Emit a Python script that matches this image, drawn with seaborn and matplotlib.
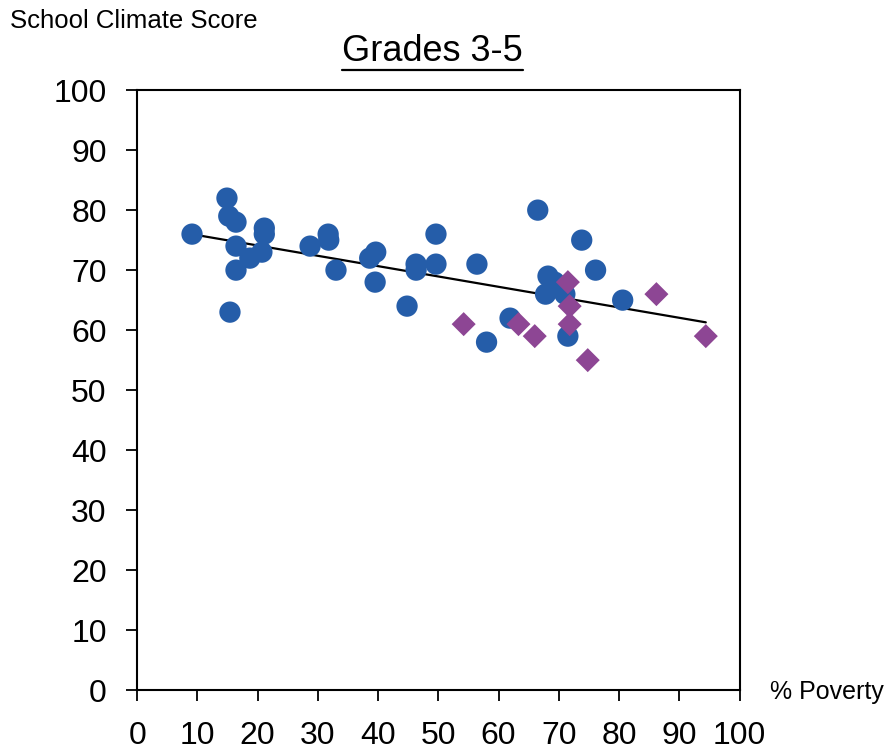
import numpy as np
import pandas as pd
import matplotlib
matplotlib.use("Agg")
import matplotlib.pyplot as plt
import seaborn as sns
from matplotlib.lines import Line2D

# Data
circle_x = [9.1, 14.9, 15.2, 16.4, 16.4, 16.4, 15.4, 18.7, 20.7, 21.1, 21.1, 28.7,
            31.7, 31.8, 33.0, 38.6, 39.6, 39.5, 44.8, 46.3, 46.3, 49.6, 49.6, 56.4,
            58.0, 61.9, 66.5, 73.8, 68.2, 67.8, 69.3, 71.0, 71.5, 76.1, 80.6]
circle_y = [76, 82, 79, 78, 74, 70, 63, 72, 73, 77, 76, 74,
            76, 75, 70, 72, 73, 68, 64, 71, 70, 71, 76, 71,
            58, 62, 80, 75, 69, 66, 68, 66, 59, 70, 65]
diamond_x = [54.2, 63.3, 66.0, 71.5, 71.8, 71.8, 74.8, 86.2, 94.4]
diamond_y = [61, 61, 59, 68, 64, 61, 55, 66, 59]
trend_x = [9.0, 94.4]
trend_y = [76.0, 61.3]
x_ticks = list(range(0, 101, 10))
y_ticks = list(range(0, 101, 10))

sns.set_theme(style="white")
plt.rcParams['font.family'] = ['Liberation Sans Narrow', 'Liberation Sans', 'DejaVu Sans']
plt.rcParams['text.color'] = 'black'

fig = plt.figure(figsize=(8.91, 7.51), dpi=100)
ax = fig.add_axes([0.154, 0.081, 0.676, 0.799])

df_c = pd.DataFrame({"x": circle_x, "y": circle_y})
df_d = pd.DataFrame({"x": diamond_x, "y": diamond_y})

sns.lineplot(x=trend_x, y=trend_y, ax=ax, color="black", linewidth=1.6, zorder=1)
sns.scatterplot(data=df_c, x="x", y="y", ax=ax, s=235, marker="o",
                color="#255DA9", edgecolor="none", zorder=3)
sns.scatterplot(data=df_d, x="x", y="y", ax=ax, s=150, marker="D",
                color="#8D4694", edgecolor="none", zorder=4)

ax.set_xlim(0, 100)
ax.set_ylim(0, 100)
ax.set_xticks(x_ticks)
ax.set_yticks(y_ticks)
ax.set_xlabel("")
ax.set_ylabel("")
for s in ax.spines.values():
    s.set_color("black")
    s.set_linewidth(1.5)
ax.tick_params(axis="both", which="major", direction="out", length=8, width=1.3,
               color="black", labelsize=23, labelcolor="black")
ax.tick_params(axis="x", bottom=True, pad=14)
ax.tick_params(axis="y", left=True, pad=14)

fig.text(0.011, 0.972, "School Climate Score", fontsize=18.5, ha="left", va="center",
         color="black")
fig.text(0.864, 0.078, "% Poverty", fontsize=18, ha="left", va="center", color="black")
title = fig.text(0.485, 0.932, "Grades 3-5", fontsize=26, ha="center", va="center",
                 color="black")

fig.canvas.draw()
bb = title.get_window_extent().transformed(fig.transFigure.inverted())
fig.add_artist(Line2D([bb.x0, bb.x1], [bb.y0 - 0.002, bb.y0 - 0.002],
                      transform=fig.transFigure, color="black", linewidth=1.6))

fig.savefig("out.png", dpi=100)
